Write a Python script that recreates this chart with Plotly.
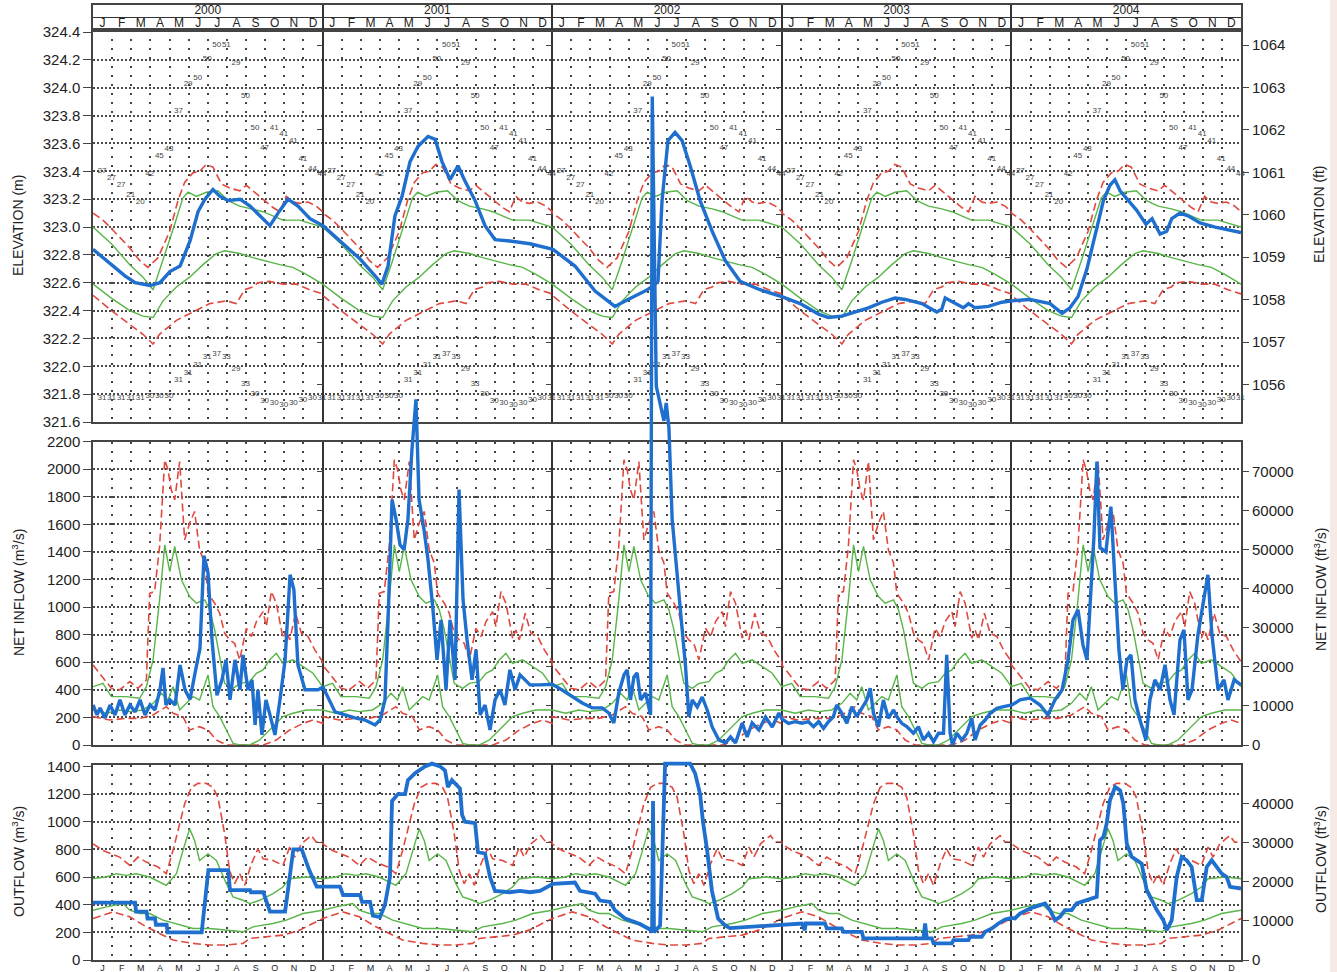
import plotly.graph_objects as go

W, H = 1337, 972
def PX(p): return p / W
def PY(p): return 1 - p / H

YEARS = ['2000', '2001', '2002', '2003', '2004']
MONTHS = ['J', 'F', 'M', 'A', 'M', 'J', 'J', 'A', 'S', 'O', 'N', 'D']

# ---------------- envelopes (one year, month units) ----------------
EL_T_RU = [0.00,0.52,0.96,1.92,2.44,2.87,3.40,4.01,4.44,4.79,5.23,5.57,5.92,6.27,6.71,7.14,7.67,8.01,8.36,8.89,9.41,9.76,10.10,10.45,10.80,11.24,11.67,12.00]
EL_RU = [323.10,323.05,322.99,322.85,322.76,322.71,322.78,322.97,323.19,323.32,323.39,323.40,323.45,323.43,323.31,323.28,323.26,323.30,323.26,323.20,323.14,323.11,323.22,323.18,323.17,323.18,323.15,323.11]
EL_T_GU = [0.00,0.96,1.92,2.61,3.14,3.66,4.27,4.70,4.97,5.40,5.92,6.53,7.06,7.67,8.36,8.89,9.58,9.93,10.80,11.50,12.00]
EL_GU = [323.00,322.88,322.73,322.64,322.55,322.76,323.02,323.21,323.25,323.22,323.25,323.26,323.19,323.15,323.13,323.11,323.07,323.05,323.05,323.02,323.00]
EL_T_GL = [0.00,0.96,1.92,2.61,3.14,3.66,4.36,5.05,5.75,6.45,6.88,7.67,8.36,8.89,9.76,10.45,11.15,12.00]
EL_GL = [322.59,322.49,322.40,322.36,322.35,322.47,322.57,322.64,322.73,322.81,322.83,322.81,322.78,322.76,322.73,322.71,322.66,322.59]
EL_T_RL = [0.00,0.96,1.92,2.61,3.14,3.48,4.36,5.23,6.10,6.97,7.49,7.93,8.36,8.62,9.23,9.93,10.63,11.32,12.00]
EL_RL = [322.51,322.40,322.30,322.23,322.16,322.23,322.33,322.39,322.45,322.47,322.45,322.55,322.57,322.60,322.61,322.59,322.59,322.55,322.52]

IN_T_RU = [0.00,0.35,0.96,1.39,1.92,2.35,2.79,2.96,3.22,3.48,3.75,3.92,4.09,4.27,4.53,4.79,5.05,5.31,5.57,5.84,6.01,6.36,6.62,6.88,7.14,7.40,7.67,8.01,8.28,8.54,8.89,9.06,9.32,9.58,9.93,10.10,10.28,10.59,10.89,11.24,11.59,12.00]
IN_RU = [580,520,411,400,460,411,471,1100,1112,1439,2067,1995,1850,1777,2055,1487,1608,1693,1415,1318,1100,1028,955,810,762,737,617,846,786,895,967,858,1112,1028,774,834,762,955,810,786,689,604]
IN_T_GU = [0.00,0.52,0.96,1.74,2.44,2.79,3.14,3.48,3.75,4.01,4.27,4.62,5.05,5.40,5.84,6.10,6.36,6.62,6.88,7.32,7.67,8.19,8.54,8.89,9.23,9.58,9.93,10.45,10.98,11.50,12.00]
IN_GU = [423,447,351,351,339,423,617,1052,1451,1257,1439,1197,1076,1028,1052,979,834,641,447,411,447,459,520,544,617,665,592,617,568,520,423]
IN_T_GL = [0.00,0.70,1.39,1.92,2.61,3.14,3.57,3.92,4.18,4.53,4.88,5.23,5.57,6.01,6.27,6.62,6.97,7.32,7.67,8.19,8.71,9.41,9.93,10.45,11.15,12.00]
IN_GL = [254,230,254,242,254,302,375,326,423,254,302,351,326,508,278,206,109,12,0,0,36,133,206,230,254,254]
IN_T_RL = [0.00,0.87,1.74,2.44,3.14,3.83,4.18,4.70,5.05,5.57,6.01,6.45,6.97,7.84,8.89,9.58,10.28,10.98,11.50,12.00]
IN_RL = [206,181,193,193,218,278,230,206,109,133,109,36,0,0,0,36,109,157,181,157]

OUT_T_RU = [0.00,0.52,0.96,1.39,1.92,2.35,2.79,3.40,3.83,4.18,4.53,4.79,5.14,5.49,5.92,6.27,6.53,6.88,7.14,7.40,7.67,7.93,8.28,8.62,8.89,9.41,9.93,10.28,10.54,10.89,11.41,11.67,12.00]
OUT_RU = [840,792,768,744,684,744,708,672,624,792,984,1128,1248,1277,1277,1248,1176,912,648,552,624,540,696,804,732,720,684,816,744,840,900,852,852]
OUT_T_GU = [0.00,0.70,1.22,1.74,2.26,2.96,3.83,4.36,4.70,5.05,5.31,5.57,6.01,6.45,6.97,7.32,7.84,8.19,8.71,9.41,9.93,10.28,11.15,12.00]
OUT_GU = [588,600,624,612,624,600,540,624,792,948,864,720,768,720,552,456,432,408,432,480,528,588,600,588]
OUT_T_GL = [0.00,0.70,1.57,1.92,2.44,2.96,3.66,4.53,5.23,6.10,6.97,7.84,8.36,9.41,10.10,10.98,12.00]
OUT_GL = [360,384,408,360,336,336,288,252,228,228,216,204,240,264,288,336,360]
OUT_T_RL = [0.00,1.05,1.92,2.79,3.48,4.18,5.23,6.10,6.97,7.84,8.19,9.06,9.93,10.80,11.50,12.00]
OUT_RL = [300,348,312,240,192,144,120,108,108,120,156,168,180,216,264,300]

# ---------------- coded guide values (semi-monthly) ----------------
CODE_T = [0.47,0.97,1.47,1.97,2.47,2.97,3.47,3.97,4.47,4.97,5.47,5.97,6.47,6.97,7.47,7.97,8.47,8.97,9.47,9.97,10.47,10.97,11.47,11.97]
UP_CODES = ['27','27','27','21','20','42','45','43','37','29','50','50','50','51','29','50','50','47','41','41','41','41','44','44']
UP_ELEV = [323.40,323.35,323.30,323.23,323.18,323.38,323.51,323.56,323.83,324.03,324.07,324.21,324.31,324.31,324.18,323.94,323.71,323.57,323.71,323.67,323.62,323.49,323.42,323.38]
LO_CODES = ['31','31','31','31','31','30','30','30','31','31','31','31','37','33','29','33','30','30','30','30','30','30','30','31']
LO_ELEV = [321.77,321.77,321.77,321.77,321.77,321.79,321.79,321.79,321.90,321.95,322.01,322.07,322.09,322.07,321.98,321.87,321.80,321.75,321.74,321.72,321.74,321.76,321.77,321.77]

# ---------------- observed series (months since Jan 2000) ----------------
ELEV_T = [0.00,0.89,1.67,2.20,2.98,3.50,4.02,4.55,5.07,5.49,5.85,6.27,6.64,7.06,7.68,8.21,8.73,9.25,9.67,10.19,10.71,11.34,12.02,
          12.91,13.96,14.74,15.10,15.42,15.78,16.15,16.57,16.99,17.51,17.88,18.24,18.66,19.08,19.44,19.97,20.49,21.01,21.79,22.84,24.04,
          25.19,26.24,27.28,27.96,28.85,29.32,29.53,29.74,30.05,30.42,30.79,31.21,31.73,32.36,33.04,33.82,34.86,36.00,
          36.96,37.92,38.44,39.14,39.83,40.53,41.23,41.92,42.45,43.32,44.10,44.36,44.54,45.06,45.49,45.76,46.10,46.80,47.50,48.03,
          48.97,50.02,50.65,51.06,51.48,51.95,52.47,52.81,53.15,53.41,53.68,54.04,54.55,55.03,55.35,55.77,56.12,56.38,56.81,57.23,57.86,58.65,59.43,60.00]
ELEV = [322.84,322.74,322.65,322.60,322.58,322.60,322.68,322.72,322.90,323.11,323.20,323.27,323.22,323.19,323.20,323.15,323.08,323.01,323.10,323.20,323.15,323.06,323.01,
        322.90,322.77,322.65,322.59,322.72,323.08,323.22,323.47,323.58,323.65,323.63,323.47,323.34,323.44,323.33,323.19,323.01,322.91,322.90,322.88,322.84,
        322.72,322.54,322.43,322.48,322.54,322.58,322.61,323.19,323.62,323.68,323.62,323.44,323.19,322.97,322.76,322.61,322.55,322.50,
        322.45,322.375,322.35,322.36,322.39,322.42,322.46,322.49,322.48,322.45,322.39,322.41,322.49,322.45,322.42,322.45,322.42,322.43,322.46,322.47,
        322.48,322.45,322.38,322.42,322.50,322.70,323.00,323.19,323.30,323.34,323.26,323.20,323.12,323.02,323.06,322.95,322.97,323.06,323.10,323.08,323.03,323.00,322.98,322.96]

INF_T = [0.00,0.21,0.37,0.63,0.89,1.15,1.41,1.67,1.93,2.20,2.46,2.72,2.98,3.24,3.50,3.66,3.81,4.02,4.29,4.55,4.81,5.07,5.33,5.59,5.80,6.01,6.22,6.48,6.74,6.95,7.16,7.42,7.68,7.84,8.10,8.31,8.47,8.62,8.83,9.04,9.25,9.51,9.77,10.04,10.30,10.50,10.71,11.08,11.45,11.76,12.02,
         12.65,13.17,13.69,14.22,14.74,15.00,15.26,15.42,15.63,15.84,16.05,16.26,16.46,16.67,16.88,17.04,17.30,17.51,17.77,17.98,18.19,18.45,18.66,18.92,19.13,19.34,19.55,19.81,20.02,20.23,20.49,20.75,21.01,21.27,21.53,21.79,22.06,22.32,22.84,23.36,24.00,
         24.52,25.05,25.57,26.09,26.61,26.96,27.22,27.48,27.75,27.92,28.09,28.27,28.44,28.62,28.88,29.14,29.23,29.44,29.66,29.84,29.96,30.10,30.27,30.62,30.97,31.14,31.32,31.58,31.84,32.10,32.36,32.71,33.06,33.32,33.58,33.93,34.19,34.45,34.80,35.15,35.50,35.85,36.00,
         36.35,36.70,37.05,37.39,37.66,37.92,38.18,38.44,38.70,38.87,39.14,39.40,39.66,39.92,40.18,40.44,40.62,40.79,41.05,41.31,41.57,41.84,42.01,42.27,42.53,42.88,43.14,43.40,43.67,43.93,44.19,44.45,44.62,44.80,44.92,45.15,45.41,45.67,45.93,46.10,46.37,46.63,46.89,47.24,47.59,48.03,
         48.45,48.97,49.50,49.91,50.28,50.65,50.96,51.22,51.48,51.74,51.95,52.16,52.31,52.47,52.63,52.94,53.20,53.41,53.62,53.83,54.04,54.25,54.46,54.72,55.03,55.24,55.50,55.77,56.03,56.29,56.50,56.81,57.02,57.23,57.44,57.75,58.01,58.27,58.48,58.80,59.11,59.32,59.64,60.00]
INF = [290,218,269,196,290,218,327,218,290,240,327,218,290,254,400,559,290,327,290,580,400,330,520,700,1372,1250,760,360,472,617,327,617,400,653,400,472,145,400,73,327,218,73,327,617,1234,1125,581,400,400,400,420,
       240,218,196,181,145,181,327,907,1779,1634,1450,1416,1634,2142,2505,1779,1561,1343,980,617,907,400,907,472,1851,1053,762,472,690,218,290,109,327,400,290,545,400,508,436,436,440,
       399,348,305,269,269,232,160,377,508,545,327,494,523,327,377,218,4700,2600,2450,2350,2480,2300,1634,1103,566,203,327,276,348,254,131,36,15,58,15,160,58,160,109,203,131,232,190,
       157,169,157,169,133,169,121,169,206,290,230,157,278,206,266,326,411,230,133,326,193,254,206,157,133,85,133,36,85,24,85,85,653,85,0,85,36,85,193,36,145,181,230,266,278,290,
       327,341,290,218,327,400,617,907,980,726,617,1125,1500,2055,1430,1400,1728,1200,690,400,617,653,327,181,36,327,472,400,581,327,218,762,835,327,400,800,1000,1234,800,400,472,327,472,436]

OUTF_T = [0.00,2.20,2.25,2.80,2.85,3.24,3.29,3.85,3.90,5.68,6.03,7.07,7.16,8.21,8.25,8.90,9.25,10.04,10.47,10.91,11.30,11.69,12.02,
          12.91,13.07,13.96,14.06,14.48,14.63,15.00,15.26,15.52,15.63,15.94,16.31,16.46,16.83,17.35,17.72,18.14,18.40,18.55,18.76,19.18,19.29,19.44,19.97,20.12,20.49,20.75,21.01,21.79,22.32,22.84,23.36,24.04,
          25.19,25.45,26.24,26.50,27.02,27.28,27.81,28.59,29.11,29.22,29.27,29.32,29.64,29.74,29.90,31.21,31.47,31.73,31.88,32.09,32.35,32.67,33.04,33.29,36.00,
          37.05,37.20,37.25,38.26,38.35,39.14,39.22,40.18,40.27,43.40,43.49,43.58,43.84,43.93,44.89,44.97,45.76,45.84,46.45,46.63,46.98,47.32,47.67,48.00,
          48.19,48.45,48.97,49.50,49.76,50.02,50.28,50.54,50.80,51.15,51.41,51.94,52.46,52.63,52.81,52.98,53.15,53.42,53.68,53.85,54.03,54.29,54.55,54.81,55.07,55.60,55.94,56.12,56.38,56.64,56.90,57.16,57.42,57.69,57.95,58.21,58.47,58.73,58.99,59.25,59.43,60.00]
OUTF = [415,415,350,350,300,300,255,255,200,200,650,650,505,505,490,490,350,350,800,800,650,530,530,
        530,470,470,420,420,320,310,400,600,1150,1200,1200,1300,1350,1400,1420,1400,1370,1250,1300,1240,1050,1000,990,780,770,600,500,490,500,490,500,550,
        560,500,480,430,420,360,300,260,220,200,1150,200,250,800,1420,1420,1350,1200,1000,800,500,300,250,230,255,
        264,216,264,264,228,228,204,204,156,156,264,156,156,120,120,144,144,168,168,204,228,264,293,305,
        301,336,372,397,409,361,288,312,361,361,409,433,457,866,890,987,1155,1251,1227,1131,842,746,721,697,505,361,288,216,288,601,746,721,673,433,433,673,721,673,625,601,529,517]

# ---------------- layout geometry ----------------
XDOM = [PX(93), PX(1241)]
HDOM = [PY(30), PY(5)]
EDOM = [PY(422), PY(30)]
IDOM = [PY(745), PY(441.5)]
ODOM = [PY(960), PY(765)]
TOP = PY(5)
EL_RANGE = [321.6, 324.415]
IN_RANGE = [0, 2200]
OUT_RANGE = [0, 1410]
M2FT = 1 / 0.3048
CMS2CFS = 35.3147

RED = '#e0493f'
GREEN = '#58b548'
BLUE = '#1f6fcf'
FRAME = '#444444'
FONT = 'Liberation Sans, Arial, sans-serif'

def tile(t, v):
    xs, ys = [], []
    for i in range(len(YEARS)):
        xs += [ti + 12 * i for ti in t]
        ys += list(v)
    return xs, ys

fig = go.Figure()

def env(t, v, xa, ya, color, dash, width):
    xs, ys = tile(t, v)
    fig.add_trace(go.Scatter(x=xs, y=ys, mode='lines', xaxis=xa, yaxis=ya,
                             line=dict(color=color, dash=dash, width=width),
                             hoverinfo='skip', showlegend=False))

DASH = '8px,4px'
env(EL_T_RU, EL_RU, 'x', 'y', RED, DASH, 1.6)
env(EL_T_RL, EL_RL, 'x', 'y', RED, DASH, 1.6)
env(EL_T_GU, EL_GU, 'x', 'y', GREEN, 'solid', 1.4)
env(EL_T_GL, EL_GL, 'x', 'y', GREEN, 'solid', 1.4)
for codes, vals in [(UP_CODES, UP_ELEV), (LO_CODES, LO_ELEV)]:
    xs, ys = tile(CODE_T, vals)
    txt = codes * len(YEARS)
    fig.add_trace(go.Scatter(x=xs, y=ys, mode='text', text=txt, xaxis='x', yaxis='y',
                             textfont=dict(size=8, color='#444444', family='Liberation Sans Narrow, ' + FONT),
                             hoverinfo='skip', showlegend=False, cliponaxis=False))
fig.add_trace(go.Scatter(x=ELEV_T, y=ELEV, mode='lines', xaxis='x', yaxis='y',
                         line=dict(color=BLUE, width=3.4), hoverinfo='skip', showlegend=False))
env(IN_T_RU, IN_RU, 'x2', 'y2', RED, DASH, 1.6)
env(IN_T_RL, IN_RL, 'x2', 'y2', RED, DASH, 1.6)
env(IN_T_GU, IN_GU, 'x2', 'y2', GREEN, 'solid', 1.4)
env(IN_T_GL, IN_GL, 'x2', 'y2', GREEN, 'solid', 1.4)
env(OUT_T_RU, OUT_RU, 'x3', 'y3', RED, DASH, 1.6)
env(OUT_T_RL, OUT_RL, 'x3', 'y3', RED, DASH, 1.6)
env(OUT_T_GU, OUT_GU, 'x3', 'y3', GREEN, 'solid', 1.4)
env(OUT_T_GL, OUT_GL, 'x3', 'y3', GREEN, 'solid', 1.4)

fig.add_trace(go.Scatter(x=INF_T, y=INF, mode='lines', xaxis='x6', yaxis='y8',
                         line=dict(color=BLUE, width=3.4), hoverinfo='skip', showlegend=False))
fig.add_trace(go.Scatter(x=OUTF_T, y=OUTF, mode='lines', xaxis='x7', yaxis='y9',
                         line=dict(color=BLUE, width=3.8), hoverinfo='skip', showlegend=False))

hx = [12 * i + 6 for i in range(len(YEARS))]
hy = [1.5] * len(YEARS)
mx = [12 * i + m + 0.5 for i in range(len(YEARS)) for m in range(12)]
my = [0.5] * len(mx)
fig.add_trace(go.Scatter(x=hx + mx, y=hy + my, mode='text', text=YEARS + MONTHS * len(YEARS),
                         textfont=dict(size=12, color='#222222', family=FONT),
                         xaxis='x4', yaxis='y4', hoverinfo='skip', showlegend=False, cliponaxis=False))

def dummy(xa, ya):
    fig.add_trace(go.Scatter(x=[None], y=[None], xaxis=xa, yaxis=ya, showlegend=False, hoverinfo='skip'))

dummy('x5', 'y3')
dummy('x', 'y5'); dummy('x2', 'y6'); dummy('x3', 'y7')

month_minor = [m for m in range(1, 60) if m % 12]
def xpanel(anchor):
    return dict(domain=XDOM, range=[0, 60], anchor=anchor, showline=True, mirror=True, automargin=False,
                linecolor=FRAME, linewidth=1.5, tickvals=[12, 24, 36, 48], showgrid=True,
                gridcolor='#333333', gridwidth=1.5, ticks='', showticklabels=False, zeroline=False,
                minor=dict(tickvals=month_minor, showgrid=True, gridcolor='#444444', gridwidth=2,
                           griddash='2px,7px', ticks=''))

tickfont = dict(size=15, color='#222222', family=FONT)
def ypanel(dom, rng, vals, fmt, anchor):
    return dict(domain=dom, range=rng, anchor=anchor, showline=True, mirror=True, automargin=False,
                linecolor=FRAME, linewidth=1.5, tickvals=vals, ticktext=[fmt.format(v) for v in vals],
                ticks='outside', ticklen=8, tickwidth=1.3, tickcolor=FRAME, tickfont=tickfont,
                showgrid=False, zeroline=False,
                minor=dict(tickvals=vals[1:-1], showgrid=True, gridcolor='#4a4a4a', gridwidth=1.5,
                           griddash='2px,2px', ticks=''))

EL_TICKS = [round(321.6 + 0.2 * k, 1) for k in range(15)]
IN_TICKS = list(range(0, 2201, 200))
OUT_TICKS = list(range(0, 1401, 200))
EL_FT = list(range(1056, 1065))
IN_FT = list(range(0, 70001, 10000))
OUT_FT = list(range(0, 40001, 10000))

layout = dict(
    width=W, height=H, margin=dict(l=0, r=0, t=0, b=0, autoexpand=False), showlegend=False,
    paper_bgcolor='white', plot_bgcolor='rgba(0,0,0,0)', font=dict(family=FONT, color='#222222'),
    xaxis=xpanel('y'), xaxis2=xpanel('y2'), xaxis3=xpanel('y3'),
    yaxis=ypanel(EDOM, EL_RANGE, EL_TICKS, '{:.1f}', 'x'),
    yaxis2=ypanel(IDOM, IN_RANGE, IN_TICKS, '{:d}', 'x2'),
    yaxis3=ypanel(ODOM, OUT_RANGE, OUT_TICKS, '{:d}', 'x3'),
    xaxis4=dict(domain=XDOM, range=[0, 60], anchor='y4', showline=True, mirror=True, linecolor=FRAME,
                linewidth=1.5, tickvals=[12, 24, 36, 48], showgrid=True, gridcolor='#333333', gridwidth=1.5,
                ticks='', showticklabels=False, zeroline=False, automargin=False),
    yaxis4=dict(domain=HDOM, range=[0, 2], anchor='x4', showline=True, mirror=True, linecolor=FRAME,
                linewidth=1.5, tickvals=[1], showgrid=True, gridcolor='#333333', gridwidth=1.3,
                ticks='', showticklabels=False, zeroline=False, automargin=False),
    xaxis5=dict(overlaying='x3', anchor='y3', side='bottom', range=[0, 60], tickvals=mx,
                ticktext=MONTHS * len(YEARS), ticks='', showgrid=False, showline=False, zeroline=False,
                automargin=False, ticklabelstandoff=1, tickfont=dict(size=9, color='#222222', family=FONT)),
    xaxis6=dict(domain=XDOM, range=[0, 60], anchor='y8', visible=False, automargin=False),
    yaxis8=dict(domain=[IDOM[0], TOP], anchor='x6', visible=False, automargin=False,
                range=[0, IN_RANGE[1] * (TOP - IDOM[0]) / (IDOM[1] - IDOM[0])]),
    xaxis7=dict(domain=XDOM, range=[0, 60], anchor='y9', visible=False, automargin=False),
    yaxis9=dict(domain=[ODOM[0], TOP], anchor='x7', visible=False, automargin=False,
                range=[0, OUT_RANGE[1] * (TOP - ODOM[0]) / (ODOM[1] - ODOM[0])]),
)

def ftaxis(over, anchor, rng, vals):
    return dict(overlaying=over, anchor=anchor, side='right', range=rng, tickvals=vals,
                ticktext=[str(v) for v in vals], automargin=False,
                ticks='outside', ticklen=7, tickwidth=1.3, tickcolor=FRAME, tickfont=tickfont,
                showgrid=False, showline=False, zeroline=False)

layout['yaxis5'] = ftaxis('y', 'x', [v * M2FT for v in EL_RANGE], EL_FT)
layout['yaxis6'] = ftaxis('y2', 'x2', [v * CMS2CFS for v in IN_RANGE], IN_FT)
layout['yaxis7'] = ftaxis('y3', 'x3', [v * CMS2CFS for v in OUT_RANGE], OUT_FT)

n = 10
for over, xa, rng, vals in [('y', 'x', [v * M2FT for v in EL_RANGE], EL_FT),
                            ('y2', 'x2', [v * CMS2CFS for v in IN_RANGE], IN_FT),
                            ('y3', 'x3', [v * CMS2CFS for v in OUT_RANGE], OUT_FT)]:
    for k in range(1, len(YEARS)):
        pos = XDOM[0] + (XDOM[1] - XDOM[0]) * k / len(YEARS)
        layout['yaxis%d' % n] = dict(overlaying=over, anchor='free', position=pos, side='right',
                                      range=rng, tickvals=vals, ticks='inside', ticklen=6, tickwidth=1.3,
                                      tickcolor=FRAME, showticklabels=False, showgrid=False,
                                      showline=False, zeroline=False, automargin=False)
        dummy(xa, 'y%d' % n)
        n += 1

ann = []
def title(text, x, y):
    ann.append(dict(text=text, x=x, y=y, xref='paper', yref='paper', showarrow=False, textangle=-90,
                    xanchor='center', yanchor='middle', font=dict(size=14, color='#222222', family=FONT)))
title('ELEVATION (m)', PX(18), PY(226))
title('NET INFLOW (m<sup>3</sup>/s)', PX(18), PY(593))
title('OUTFLOW (m<sup>3</sup>/s)', PX(18), PY(862))
title('ELEVATION (ft)', PX(1319), PY(214))
title('NET INFLOW (ft<sup>3</sup>/s)', PX(1320), PY(590))
title('OUTFLOW (ft<sup>3</sup>/s)', PX(1320), PY(860))
layout['annotations'] = ann
layout['shapes'] = [dict(type='rect', xref='paper', yref='paper', x0=PX(1330), x1=1, y0=0, y1=1,
                         fillcolor='#f7e9e4', line=dict(width=0), layer='below')]

fig.update_layout(**layout)
fig.write_html("out.html", config={'displayModeBar': False},
               post_script="document.body.style.margin='0';document.body.style.overflow='hidden';")
